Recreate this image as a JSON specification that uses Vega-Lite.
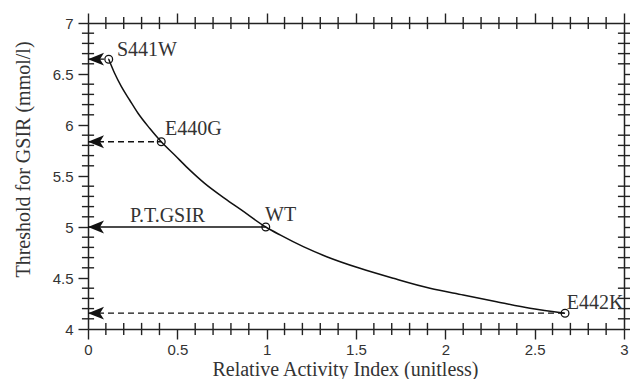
{
  "$schema": "https://vega.github.io/schema/vega-lite/v6.json",
  "width": 536,
  "height": 306,
  "autosize": "none",
  "padding": {"left": 88, "top": 23, "right": 6, "bottom": 50},
  "background": "white",
  "config": {
    "view": {"stroke": null},
    "axis": {
      "grid": false,
      "domainColor": "#222",
      "domainWidth": 1.5,
      "tickColor": "#222",
      "tickWidth": 1.4,
      "labelFont": "Liberation Sans",
      "labelFontSize": 15,
      "labelColor": "#333",
      "labelFlush": false,
      "labelOverlap": false,
      "titleFont": "Liberation Serif",
      "titleFontSize": 20,
      "titleFontWeight": "normal",
      "titleColor": "#333"
    }
  },
  "datasets": {
    "curve": [
      {"x": 0.116, "y": 6.645},
      {"x": 0.149, "y": 6.507},
      {"x": 0.187, "y": 6.376},
      {"x": 0.233, "y": 6.245},
      {"x": 0.280, "y": 6.115},
      {"x": 0.345, "y": 5.968},
      {"x": 0.410, "y": 5.836},
      {"x": 0.485, "y": 5.706},
      {"x": 0.560, "y": 5.575},
      {"x": 0.653, "y": 5.428},
      {"x": 0.765, "y": 5.281},
      {"x": 0.858, "y": 5.167},
      {"x": 0.995, "y": 5.000},
      {"x": 1.075, "y": 4.922},
      {"x": 1.205, "y": 4.807},
      {"x": 1.336, "y": 4.709},
      {"x": 1.522, "y": 4.595},
      {"x": 1.709, "y": 4.497},
      {"x": 1.914, "y": 4.399},
      {"x": 2.100, "y": 4.333},
      {"x": 2.287, "y": 4.268},
      {"x": 2.474, "y": 4.203},
      {"x": 2.670, "y": 4.155}
    ],
    "points": [
      {"name": "S441W", "x": 0.116, "y": 6.645},
      {"name": "E440G", "x": 0.410, "y": 5.836},
      {"name": "WT", "x": 0.995, "y": 5.0},
      {"name": "E442K", "x": 2.670, "y": 4.155}
    ],
    "arrows": [
      {"name": "S441W", "x0": 0, "x1": 0.116, "y": 6.645, "line": "dashed"},
      {"name": "E440G", "x0": 0, "x1": 0.410, "y": 5.836, "line": "dashed"},
      {"name": "WT", "x0": 0, "x1": 0.995, "y": 5.0, "line": "solid"},
      {"name": "E442K", "x0": 0, "x1": 2.670, "y": 4.155, "line": "dashed"}
    ],
    "labels": [
      {"text": "S441W", "x": 0.162, "y": 6.676},
      {"text": "E440G", "x": 0.431, "y": 5.902},
      {"text": "P.T.GSIR", "x": 0.235, "y": 5.049},
      {"text": "WT", "x": 0.991, "y": 5.059},
      {"text": "E442K", "x": 2.68, "y": 4.196}
    ],
    "xminor": [
      {"v": 0.1}, {"v": 0.2}, {"v": 0.3}, {"v": 0.4},
      {"v": 0.6}, {"v": 0.7}, {"v": 0.8}, {"v": 0.9},
      {"v": 1.1}, {"v": 1.2}, {"v": 1.3}, {"v": 1.4},
      {"v": 1.6}, {"v": 1.7}, {"v": 1.8}, {"v": 1.9},
      {"v": 2.1}, {"v": 2.2}, {"v": 2.3}, {"v": 2.4},
      {"v": 2.6}, {"v": 2.7}, {"v": 2.8}, {"v": 2.9}
    ],
    "yminor": [
      {"v": 4.1}, {"v": 4.2}, {"v": 4.3}, {"v": 4.4},
      {"v": 4.6}, {"v": 4.7}, {"v": 4.8}, {"v": 4.9},
      {"v": 5.1}, {"v": 5.2}, {"v": 5.3}, {"v": 5.4},
      {"v": 5.6}, {"v": 5.7}, {"v": 5.8}, {"v": 5.9},
      {"v": 6.1}, {"v": 6.2}, {"v": 6.3}, {"v": 6.4},
      {"v": 6.6}, {"v": 6.7}, {"v": 6.8}, {"v": 6.9}
    ]
  },
  "layer": [
    {
      "data": {"name": "curve"},
      "mark": {"type": "line", "color": "#111", "strokeWidth": 1.5, "interpolate": "monotone"},
      "encoding": {
        "x": {
          "field": "x", "type": "quantitative",
          "scale": {"domain": [0, 3], "nice": false, "zero": false},
          "axis": {
            "orient": "bottom",
            "values": [0, 0.5, 1, 1.5, 2, 2.5, 3],
            "format": "~g",
            "tickSize": 10,
            "labelPadding": 3,
            "title": "Relative Activity Index (unitless)",
            "titleX": 257,
            "titleY": 46,
            "titleAlign": "center",
            "titleBaseline": "alphabetic"
          }
        },
        "y": {
          "field": "y", "type": "quantitative",
          "scale": {"domain": [4, 7], "nice": false, "zero": false},
          "axis": {
            "orient": "left",
            "values": [4, 4.5, 5, 5.5, 6, 6.5, 7],
            "format": "~g",
            "tickSize": 10,
            "labelPadding": 5,
            "title": "Threshold for GSIR (mmol/l)",
            "titleAngle": 270,
            "titleX": -59,
            "titleY": 136,
            "titleAlign": "center",
            "titleBaseline": "alphabetic"
          }
        }
      }
    },
    {
      "data": {"name": "arrows"},
      "mark": {"type": "rule", "color": "#111", "strokeWidth": 1.3},
      "encoding": {
        "x": {
          "field": "x0", "type": "quantitative",
          "axis": {"orient": "top", "values": [0, 0.5, 1, 1.5, 2, 2.5, 3], "labels": false, "tickSize": 10, "title": null}
        },
        "x2": {"field": "x1"},
        "y": {
          "field": "y", "type": "quantitative",
          "axis": {"orient": "right", "values": [4, 4.5, 5, 5.5, 6, 6.5, 7], "labels": false, "tickSize": 10, "title": null}
        },
        "strokeDash": {
          "field": "line", "type": "nominal",
          "scale": {"domain": ["solid", "dashed"], "range": [[1, 0], [6, 4]]},
          "legend": null
        }
      }
    },
    {
      "data": {"name": "xminor"},
      "mark": {"type": "rule", "color": "#222", "strokeWidth": 1.4},
      "encoding": {
        "x": {"field": "v", "type": "quantitative", "axis": null},
        "y": {"datum": 3.94, "type": "quantitative", "axis": null},
        "y2": {"datum": 4.06}
      }
    },
    {
      "data": {"name": "xminor"},
      "mark": {"type": "rule", "color": "#222", "strokeWidth": 1.4},
      "encoding": {
        "x": {"field": "v", "type": "quantitative", "axis": null},
        "y": {"datum": 6.94, "type": "quantitative", "axis": null},
        "y2": {"datum": 7.06}
      }
    },
    {
      "data": {"name": "yminor"},
      "mark": {"type": "rule", "color": "#222", "strokeWidth": 1.4},
      "encoding": {
        "y": {"field": "v", "type": "quantitative", "axis": null},
        "x": {"datum": -0.034, "type": "quantitative", "axis": null},
        "x2": {"datum": 0.034}
      }
    },
    {
      "data": {"name": "yminor"},
      "mark": {"type": "rule", "color": "#222", "strokeWidth": 1.4},
      "encoding": {
        "y": {"field": "v", "type": "quantitative", "axis": null},
        "x": {"datum": 2.966, "type": "quantitative", "axis": null},
        "x2": {"datum": 3.034}
      }
    },
    {
      "data": {"name": "points"},
      "mark": {"type": "point", "shape": "circle", "size": 60, "filled": false, "stroke": "#111", "strokeWidth": 1.3, "opacity": 1},
      "encoding": {
        "x": {"field": "x", "type": "quantitative", "axis": null},
        "y": {"field": "y", "type": "quantitative", "axis": null}
      }
    },
    {
      "data": {"name": "arrows"},
      "mark": {"type": "point", "shape": "M0,0 L2,-0.8 L1.5,0 L2,0.8 Z", "size": 256, "filled": true, "color": "#111", "opacity": 1},
      "encoding": {
        "x": {"field": "x0", "type": "quantitative", "axis": null},
        "y": {"field": "y", "type": "quantitative", "axis": null}
      }
    },
    {
      "data": {"name": "labels"},
      "mark": {"type": "text", "font": "Liberation Serif", "fontSize": 20, "color": "#333", "align": "left", "baseline": "alphabetic"},
      "encoding": {
        "x": {"field": "x", "type": "quantitative", "axis": null},
        "y": {"field": "y", "type": "quantitative", "axis": null},
        "text": {"field": "text"}
      }
    }
  ],
  "resolve": {"axis": {"x": "independent", "y": "independent"}}
}
